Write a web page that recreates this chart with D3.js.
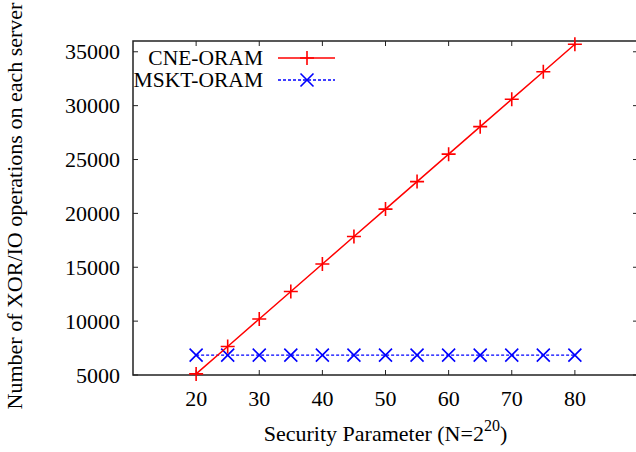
<!DOCTYPE html>
<html><head><meta charset="utf-8">
<script src="https://cdn.jsdelivr.net/npm/d3@7"></script>
<style>body{margin:0;background:#fff}svg{display:block}text{font-family:"Liberation Serif","Times New Roman",serif}</style>
</head><body>
<svg id="c" width="636" height="452"></svg>
<script>
const xValues = [20,25,30,35,40,45,50,55,60,65,70,75,80];
const cneValues = [5100,7650,10200,12750,15300,17850,20400,22950,25500,28050,30600,33150,35700];
const msktValues = [6850,6850,6850,6850,6850,6850,6850,6850,6850,6850,6850,6850,6850];
const xTicks = [20,30,40,50,60,70,80];
const yTicks = [5000,10000,15000,20000,25000,30000,35000];
const seriesNames = ["CNE-ORAM","MSKT-ORAM"];

const svg = d3.select("#c");
const L=133, R=638, T=41, B=375;
const x = d3.scaleLinear().domain([10,90]).range([L,R]);
const y = d3.scaleLinear().domain([5000,36000]).range([B,T]);
const fs = 22;
const frame = "#222";

const g = svg.append("g");
xTicks.forEach(t=>{
  g.append("line").attr("x1",x(t)).attr("x2",x(t)).attr("y1",B).attr("y2",B-5).attr("stroke",frame);
  g.append("line").attr("x1",x(t)).attr("x2",x(t)).attr("y1",T).attr("y2",T+5).attr("stroke",frame);
  g.append("text").attr("x",x(t)).attr("y",406).attr("text-anchor","middle").attr("font-size",fs).text(t);
});
yTicks.forEach(t=>{
  g.append("line").attr("x1",L).attr("x2",L+5).attr("y1",y(t)).attr("y2",y(t)).attr("stroke",frame);
  g.append("line").attr("x1",R).attr("x2",R-5).attr("y1",y(t)).attr("y2",y(t)).attr("stroke",frame);
  g.append("text").attr("x",120).attr("y",y(t)+7.5).attr("text-anchor","end").attr("font-size",fs).text(t);
});
svg.append("rect").attr("x",L).attr("y",T).attr("width",R-L).attr("height",B-T)
  .attr("fill","none").attr("stroke",frame).attr("stroke-width",1.5);

const xt = svg.append("text").attr("x",(L+R)/2).attr("y",441).attr("text-anchor","middle").attr("font-size",fs);
xt.append("tspan").text("Security Parameter (N=2");
xt.append("tspan").attr("dy",-10).attr("font-size",16).text("20");
xt.append("tspan").attr("dy",10).text(")");
svg.append("text").attr("transform","translate(22,206) rotate(-90)").attr("text-anchor","middle")
  .attr("font-size",fs).text("Number of XOR/IO operations on each server");

const line = d3.line().x(d=>x(d[0])).y(d=>y(d[1]));
const cne = xValues.map((v,i)=>[v,cneValues[i]]);
const mskt = xValues.map((v,i)=>[v,msktValues[i]]);
const red="#ff0000", blue="#0000ff";
const ms=7;
function plus(sel,cx,cy){
  sel.append("path").attr("d",`M${cx-ms},${cy}H${cx+ms}M${cx},${cy-ms}V${cy+ms}`).attr("stroke",red).attr("stroke-width",1.6).attr("fill","none");
}
function cross(sel,cx,cy){
  const s=ms-0.5;
  sel.append("path").attr("d",`M${cx-s},${cy-s}L${cx+s},${cy+s}M${cx-s},${cy+s}L${cx+s},${cy-s}`).attr("stroke",blue).attr("stroke-width",1.6).attr("fill","none");
}
svg.append("path").datum(mskt).attr("d",line).attr("fill","none").attr("stroke",blue).attr("stroke-width",1.3).attr("stroke-dasharray","3,2");
mskt.forEach(d=>cross(svg,x(d[0]),y(d[1])));
svg.append("path").datum(cne).attr("d",line).attr("fill","none").attr("stroke",red).attr("stroke-width",1.5);
cne.forEach(d=>plus(svg,x(d[0]),y(d[1])));

svg.append("text").attr("x",263).attr("y",65).attr("text-anchor","end").attr("font-size",21.5).text(seriesNames[0]);
svg.append("line").attr("x1",278).attr("x2",335).attr("y1",58).attr("y2",58).attr("stroke",red).attr("stroke-width",1.5);
plus(svg,307,58);
svg.append("text").attr("x",263).attr("y",87).attr("text-anchor","end").attr("font-size",21.5).text(seriesNames[1]);
svg.append("line").attr("x1",278).attr("x2",335).attr("y1",80).attr("y2",80).attr("stroke",blue).attr("stroke-width",1.3).attr("stroke-dasharray","3,2");
cross(svg,307,80);
</script>
</body></html>
